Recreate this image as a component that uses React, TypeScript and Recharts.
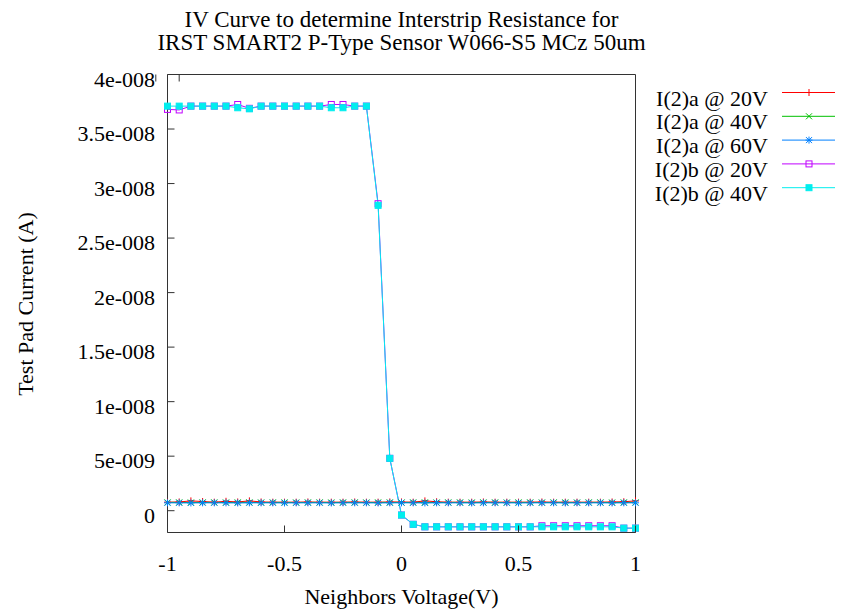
import React from "react";
import { LineChart, Line, XAxis, YAxis, Legend } from "recharts";

// neighbor strip voltage (V)
const voltage = [
  -1, -0.95, -0.9, -0.85, -0.8, -0.75, -0.7, -0.65, -0.6, -0.55,
  -0.5, -0.45, -0.4, -0.35, -0.3, -0.25, -0.2, -0.15, -0.1, -0.05,
  0, 0.05, 0.1, 0.15, 0.2, 0.25, 0.3, 0.35, 0.4, 0.45,
  0.5, 0.55, 0.6, 0.65, 0.7, 0.75, 0.8, 0.85, 0.9, 0.95,
  1,
];

// test pad current, in nA
const ia20 = [
  0.78, 0.8, 0.9, 0.84, 0.78, 0.86, 0.8, 0.9, 0.8, 0.78,
  0.78, 0.78, 0.8, 0.78, 0.78, 0.78, 0.8, 0.78, 0.78, 0.8,
  0.8, 0.78, 0.9, 0.82, 0.78, 0.78, 0.78, 0.8, 0.78, 0.78,
  0.78, 0.78, 0.8, 0.78, 0.78, 0.78, 0.78, 0.78, 0.8, 0.82,
  0.9,
];
const ia40 = [
  0.76, 0.76, 0.75, 0.76, 0.76, 0.75, 0.76, 0.76, 0.75, 0.76,
  0.76, 0.75, 0.76, 0.76, 0.75, 0.76, 0.76, 0.75, 0.76, 0.76,
  0.75, 0.76, 0.76, 0.75, 0.76, 0.76, 0.75, 0.76, 0.76, 0.75,
  0.76, 0.76, 0.75, 0.76, 0.76, 0.75, 0.76, 0.76, 0.75, 0.76,
  0.76,
];
const ia60 = [
  0.72, 0.72, 0.71, 0.72, 0.72, 0.72, 0.71, 0.72, 0.72, 0.72,
  0.71, 0.72, 0.72, 0.72, 0.71, 0.72, 0.72, 0.72, 0.71, 0.72,
  0.72, 0.72, 0.71, 0.72, 0.72, 0.72, 0.71, 0.72, 0.72, 0.72,
  0.71, 0.72, 0.72, 0.72, 0.71, 0.72, 0.72, 0.72, 0.71, 0.72,
  0.72,
];
const ib20 = [
  36.8, 36.75, 37.1, 37.1, 37.1, 37.1, 37.25, 36.9, 37.1, 37.1,
  37.1, 37.1, 37.1, 37.1, 37.25, 37.25, 37.1, 37.1, 28.15, 4.8,
  -0.4, -1.25, -1.48, -1.48, -1.48, -1.48, -1.48, -1.48, -1.48, -1.48,
  -1.48, -1.48, -1.38, -1.38, -1.38, -1.38, -1.38, -1.38, -1.38, -1.6,
  -1.6,
];
const ib40 = [
  37.1, 37.1, 37.1, 37.1, 37.1, 37.1, 36.95, 36.85, 37.1, 37.1,
  37.1, 37.1, 37.1, 37.1, 36.95, 36.95, 37.1, 37.1, 28.0, 4.8,
  -0.4, -1.25, -1.48, -1.48, -1.48, -1.48, -1.48, -1.48, -1.48, -1.48,
  -1.48, -1.48, -1.48, -1.48, -1.48, -1.48, -1.48, -1.48, -1.48, -1.6,
  -1.6,
];

const xTicks = [-1, -0.5, 0, 0.5, 1];
const yTicks = [0, 5e-9, 1e-8, 1.5e-8, 2e-8, 2.5e-8, 3e-8, 3.5e-8, 4e-8];

const seriesKeys = ["a20", "a40", "a60", "b20", "b40"];
const seriesNames = ["I(2)a @ 20V", "I(2)a @ 40V", "I(2)a @ 60V", "I(2)b @ 20V", "I(2)b @ 40V"];
const seriesColors = ["#ff0000", "#00c000", "#0080ff", "#c000ff", "#00eeee"];
const seriesShapes = ["plus", "cross", "star", "box", "fbox"];
const seriesValues = [ia20, ia40, ia60, ib20, ib40];

const data = voltage.map((v, i) => {
  const row: Record<string, number> = { v };
  seriesKeys.forEach((k, s) => {
    row[k] = seriesValues[s][i] * 1e-9;
  });
  return row;
});

const FONT = '"Liberation Serif", "Times New Roman", serif';
const AXIS = "#333";

function fmtY(v: number): string {
  if (v === 0) return "0";
  const [m, e] = v.toExponential(2).split("e");
  const exp = parseInt(e, 10);
  const sign = exp < 0 ? "-" : "+";
  return `${parseFloat(m)}e${sign}${String(Math.abs(exp)).padStart(3, "0")}`;
}

function Marker({ shape, x, y, color }: { shape: string; x: number; y: number; color: string }) {
  const r = 3.5;
  switch (shape) {
    case "plus":
      return (
        <g stroke={color} strokeWidth={1}>
          <line x1={x - r} x2={x + r} y1={y} y2={y} />
          <line x1={x} x2={x} y1={y - r} y2={y + r} />
        </g>
      );
    case "cross":
      return (
        <g stroke={color} strokeWidth={1}>
          <line x1={x - 3} x2={x + 3} y1={y - 3} y2={y + 3} />
          <line x1={x - 3} x2={x + 3} y1={y + 3} y2={y - 3} />
        </g>
      );
    case "star":
      return (
        <g stroke={color} strokeWidth={1}>
          <line x1={x - r} x2={x + r} y1={y} y2={y} />
          <line x1={x} x2={x} y1={y - r} y2={y + r} />
          <line x1={x - 3} x2={x + 3} y1={y - 3} y2={y + 3} />
          <line x1={x - 3} x2={x + 3} y1={y + 3} y2={y - 3} />
        </g>
      );
    case "box":
      return <rect x={x - 3} y={y - 3} width={6} height={6} fill="none" stroke={color} strokeWidth={1} />;
    default:
      return <rect x={x - 3} y={y - 3} width={6} height={6} fill={color} stroke={color} strokeWidth={1} />;
  }
}

function BottomTick(props: any) {
  const { x, y, payload } = props;
  return (
    <g>
      <line x1={x} x2={x} y1={y} y2={y - 7} stroke={AXIS} />
      <text x={x} y={y + 38} textAnchor="middle" fontFamily={FONT} fontSize={22} fill="#000">
        {payload.value}
      </text>
    </g>
  );
}

function TopTick(props: any) {
  const { x, y } = props;
  return <line x1={x} x2={x} y1={y} y2={y + 7} stroke={AXIS} />;
}

function LeftTick(props: any) {
  const { x, y, payload } = props;
  return (
    <g>
      <line x1={x} x2={x + 7} y1={y} y2={y} stroke={AXIS} />
      <text x={x - 12.5} y={y + 12} textAnchor="end" fontFamily={FONT} fontSize={22} fill="#000">
        {fmtY(payload.value)}
      </text>
    </g>
  );
}

function RightTick(props: any) {
  const { x, y } = props;
  return <line x1={x} x2={x - 7} y1={y} y2={y} stroke={AXIS} />;
}

function KeyBox(props: any) {
  const items = props.payload || [];
  return (
    <svg width={200} height={125} style={{ display: "block", overflow: "visible" }}>
      {items.map((it: any, i: number) => {
        const idx = seriesKeys.indexOf(it.dataKey);
        const y = 12.5 + i * 23.8;
        return (
          <g key={it.dataKey}>
            <text x={128} y={y + 13} textAnchor="end" fontFamily={FONT} fontSize={22} fill="#000">
              {it.value}
            </text>
            <line x1={142} x2={195} y1={y} y2={y} stroke={seriesColors[idx]} />
            <Marker shape={seriesShapes[idx]} x={169} y={y} color={seriesColors[idx]} />
          </g>
        );
      })}
    </svg>
  );
}

export default function App() {
  return (
    <div style={{ position: "absolute", left: 0, top: 0, width: 842, height: 614, background: "#fff" }}>
      <div
        style={{
          position: "absolute",
          left: 0,
          top: 7.9,
          width: 803,
          textAlign: "center",
          fontFamily: FONT,
          fontSize: 23,
          lineHeight: "23.2px",
          color: "#000",
        }}
      >
        <div>IV Curve to determine Interstrip Resistance for</div>
        <div>IRST SMART2 P-Type Sensor W066-S5 MCz 50um</div>
      </div>
      <LineChart
        width={842}
        height={614}
        data={data}
        margin={{ top: 73.5, right: 205.5, bottom: 51.5, left: 107.5 }}
      >
        <XAxis
          dataKey="v"
          type="number"
          domain={[-1, 1]}
          ticks={xTicks}
          height={30}
          tickSize={0}
          tickMargin={0}
          tickLine={false}
          tick={<BottomTick />}
          axisLine={{ stroke: AXIS }}
          label={{
            content: () => (
              <text x={401.5} y={604} textAnchor="middle" fontFamily={FONT} fontSize={22} fill="#000">
                Neighbors Voltage(V)
              </text>
            ),
          }}
        />
        <XAxis
          xAxisId="top"
          orientation="top"
          type="number"
          domain={[-1, 1]}
          ticks={xTicks}
          height={1}
          tickSize={0}
          tickMargin={0}
          tickLine={false}
          tick={<TopTick />}
          axisLine={{ stroke: AXIS }}
        />
        <YAxis
          type="number"
          domain={[-2e-9, 4e-8]}
          ticks={yTicks}
          width={60}
          tickSize={0}
          tickMargin={0}
          tickLine={false}
          tick={<LeftTick />}
          axisLine={{ stroke: AXIS }}
          label={{
            content: () => (
              <text
                x={0}
                y={0}
                transform="translate(33 304) rotate(-90)"
                textAnchor="middle"
                fontFamily={FONT}
                fontSize={22}
                fill="#000"
              >
                Test Pad Current (A)
              </text>
            ),
          }}
        />
        <YAxis
          yAxisId="right"
          orientation="right"
          type="number"
          domain={[-2e-9, 4e-8]}
          ticks={yTicks}
          width={1}
          tickSize={0}
          tickMargin={0}
          tickLine={false}
          tick={<RightTick />}
          axisLine={{ stroke: AXIS }}
        />
        <Legend
          layout="vertical"
          align="center"
          verticalAlign="middle"
          wrapperStyle={{ left: 640, top: 80, width: 200 }}
          content={<KeyBox />}
        />
        {seriesKeys.map((k, s) => (
          <Line
            key={k}
            dataKey={k}
            name={seriesNames[s]}
            type="linear"
            stroke={seriesColors[s]}
            strokeWidth={1}
            isAnimationActive={false}
            activeDot={false}
            dot={(p: any) => (
              <Marker key={`${k}-${p.index}`} shape={seriesShapes[s]} x={p.cx} y={p.cy} color={seriesColors[s]} />
            )}
          />
        ))}
      </LineChart>
    </div>
  );
}
